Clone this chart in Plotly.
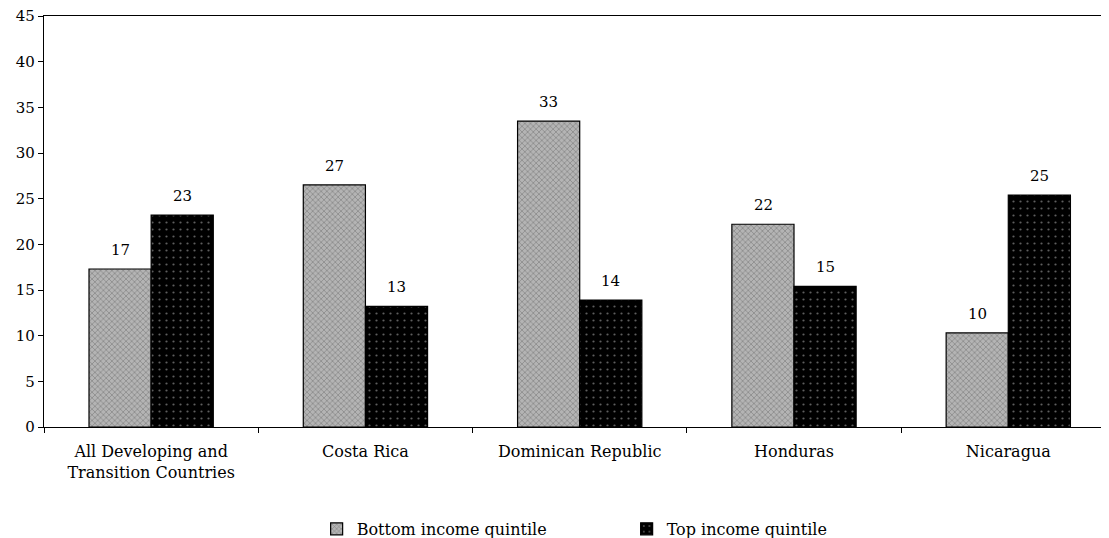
import plotly.graph_objects as go

categories = ["All Developing and<br>Transition Countries", "Costa Rica", "Dominican Republic", "Honduras", "Nicaragua"]
bottom_vals = [17.3, 26.5, 33.5, 22.2, 10.3]
top_vals = [23.2, 13.2, 13.9, 15.4, 25.4]
bottom_labels = ["17", "27", "33", "22", "10"]
top_labels = ["23", "13", "14", "15", "25"]
y_ticks = [0, 5, 10, 15, 20, 25, 30, 35, 40, 45]

FONT = "DejaVu Serif"

fig = go.Figure()
fig.add_trace(go.Bar(
    x=categories, y=bottom_vals, name="Bottom income quintile",
    marker=dict(color="#a8a8a8", line=dict(color="black", width=1.2),
                pattern=dict(shape="x", fgcolor="#4a4a4a", bgcolor="#b4b4b4", size=4, solidity=0.3)),
))
fig.add_trace(go.Bar(
    x=categories, y=top_vals, name="Top income quintile",
    marker=dict(color="black", line=dict(color="black", width=1.2),
                pattern=dict(shape=".", fgcolor="#bbbbbb", bgcolor="black", size=7, solidity=0.08)),
))

annotations = []
for cat, v, t in zip(categories, bottom_vals, bottom_labels):
    annotations.append(dict(x=cat, y=v, text=t, xref="x", yref="y", showarrow=False,
                            xshift=-31, yshift=8, yanchor="bottom",
                            font=dict(family=FONT, size=15, color="black")))
for cat, v, t in zip(categories, top_vals, top_labels):
    annotations.append(dict(x=cat, y=v, text=t, xref="x", yref="y", showarrow=False,
                            xshift=31, yshift=8, yanchor="bottom",
                            font=dict(family=FONT, size=15, color="black")))

fig.update_layout(
    width=1101, height=530,
    margin=dict(l=36, r=0, t=8, b=111, autoexpand=False),
    paper_bgcolor="white", plot_bgcolor="white",
    barmode="group", bargap=0.42, bargroupgap=0,
    font=dict(family=FONT, size=15, color="black"),
    showlegend=True,
    legend=dict(orientation="h", x=0.256, xanchor="left", y=-0.248, yanchor="middle",
                font=dict(family=FONT, size=16, color="black"), itemwidth=30,
                entrywidth=265, traceorder="normal"),
    annotations=annotations,
)
fig.update_xaxes(
    range=[-0.5, 4.47], showline=True, linecolor="black", linewidth=1.2, mirror=True,
    ticks="outside", tickson="boundaries", ticklen=5, tickcolor="black", automargin=False,
    ticklabelstandoff=10,
    showgrid=False, tickfont=dict(family=FONT, size=16, color="black"),
)
fig.update_yaxes(
    range=[0, 45], tickvals=y_ticks, showline=True, linecolor="black", linewidth=1.2,
    ticks="outside", ticklen=5, tickcolor="black", showgrid=False, zeroline=False, automargin=False,
    ticklabeloverflow="allow",
    tickfont=dict(family=FONT, size=15, color="black"),
)

fig.write_html("out.html")
